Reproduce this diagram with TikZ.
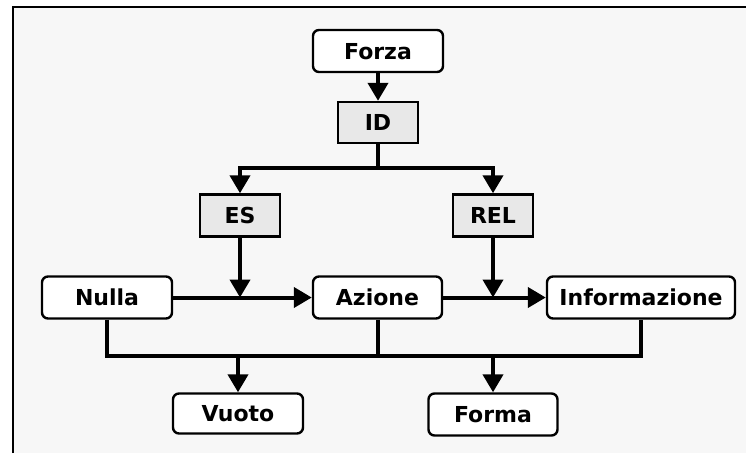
\documentclass[tikz,border=0pt]{standalone}
\usepackage{fontspec}
\setmainfont{DejaVu Sans}
\usetikzlibrary{arrows.meta}
\definecolor{bgc}{HTML}{F7F7F7}
\definecolor{boxg}{HTML}{E8E8E8}
\tikzset{
  lbl/.style={font=\fontsize{22}{26}\selectfont\bfseries, inner sep=0pt, text depth=0pt},
  rbox/.style={lbl, draw, line width=2.4pt, fill=white, rounded corners=6pt},
  gbox/.style={lbl, draw, line width=2.4pt, fill=boxg},
  conn/.style={line width=4pt, line join=miter},
  arr/.style={conn, -{Triangle[width=20pt,length=18pt]}}
}
\begin{document}
\begin{tikzpicture}[x=1pt,y=-1pt]
\useasboundingbox (0,0) rectangle (746,453);
\fill[white] (0,0) rectangle (746,453);
\fill[bgc] (13,7) rectangle (746,453);
\draw[line width=1.3pt] (13,453) -- (13,7) -- (746,7);

\node[rbox, minimum width=130pt, minimum height=42pt] (Forza) at (378,51) {Forza};
\node[gbox, minimum width=80pt, minimum height=41pt] (ID) at (378,122.5) {ID};
\node[gbox, minimum width=80pt, minimum height=42pt] (ES) at (240,215.5) {ES};
\node[gbox, minimum width=80pt, minimum height=42pt] (REL) at (493,215.5) {REL};
\node[rbox, minimum width=130pt, minimum height=42pt] (Nulla) at (107,297.5) {Nulla};
\node[rbox, minimum width=129pt, minimum height=42pt] (Azione) at (377.5,297.5) {Azione};
\node[rbox, minimum width=188pt, minimum height=42pt] (Info) at (641,297.5) {Informazione};
\node[rbox, minimum width=130pt, minimum height=40pt] (Vuoto) at (238,413.5) {Vuoto};
\node[rbox, minimum width=129pt, minimum height=42pt] (Forma) at (493,414.5) {Forma};

\coordinate (busT) at (378,168);
\coordinate (busB) at (377.5,356);

\draw[arr] (Forza) -- (ID);
\draw[conn] (ID) -- (busT);
\draw[arr] (busT) -| (ES.north);
\draw[arr] (busT) -| (REL.north);

\draw[arr] (Nulla) -- (Azione);
\draw[arr] (ES) -- (ES |- Nulla.east);
\draw[arr] (Azione) -- (Info);
\draw[arr] (REL) -- (REL |- Azione.east);

\draw[conn] (Nulla.south) |- (busB) -| (Info.south);
\draw[conn] (Azione) -- (busB);
\draw[arr] (Vuoto |- busB) -- (Vuoto);
\draw[arr] (Forma |- busB) -- (Forma);
\end{tikzpicture}
\end{document}
